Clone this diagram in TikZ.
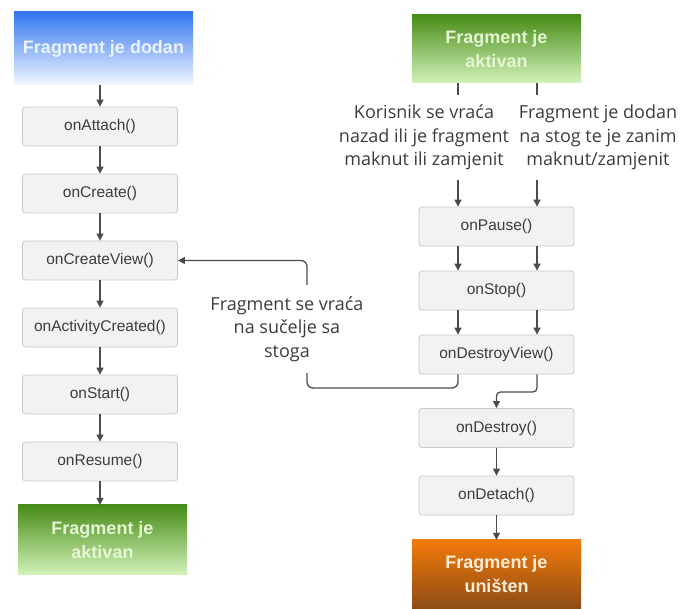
\documentclass[tikz,border=0pt]{standalone}
\usepackage{fontspec}
\setmainfont{Liberation Sans}
\newfontfamily\notefont{Open Sans}
\usetikzlibrary{arrows.meta,positioning}

\definecolor{boxfill}{RGB}{242,242,242}
\definecolor{boxline}{RGB}{200,200,200}
\definecolor{inkgray}{RGB}{60,60,60}
\definecolor{arrowgray}{RGB}{75,75,75}
\definecolor{blueTop}{RGB}{50,118,240}
\definecolor{blueBot}{RGB}{242,247,255}
\definecolor{blueText}{RGB}{235,243,255}
\definecolor{greenTop}{RGB}{72,140,24}
\definecolor{greenBot}{RGB}{210,242,185}
\definecolor{greenText}{RGB}{228,246,210}
\definecolor{orangeTop}{RGB}{242,122,10}
\definecolor{orangeBot}{RGB}{140,76,22}
\definecolor{orangeText}{RGB}{255,236,215}

\begin{document}
\begin{tikzpicture}[x=1pt,y=-1pt,node distance=67pt,
		method node/.style={rectangle,rounded corners=3pt,draw=boxline,fill=boxfill,line width=0.8pt,
			minimum width=155pt,minimum height=39pt,text=inkgray,font=\fontsize{15.5}{18}\selectfont},
		state node/.style={rectangle,minimum width=169pt,minimum height=70pt,align=center,
			font=\fontsize{18}{24}\selectfont\bfseries},
		note/.style={align=center,inner sep=0pt,text=inkgray,font=\notefont\fontsize{18}{23.5}\selectfont},
		flow/.style={draw=arrowgray,line width=1.3pt,-{Triangle[length=7pt,width=7pt]}},
		plain/.style={draw=arrowgray,line width=1.3pt}]
		
		\useasboundingbox (0,0) rectangle (681,609);
		
		% lijevi stupac
		\node[state node,top color=blueTop,bottom color=blueBot,text=blueText,minimum width=179pt,minimum height=73pt] (added) at (103.5,48.5) {Fragment je dodan};
		\node[method node] (attach) at (100,126.5) {onAttach()};
		\node[method node] (create) [below of=attach] {onCreate()};
		\node[method node] (cview) [below of=create] {onCreateView()};
		\node[method node] (actcreated) [below of=cview] {onActivityCreated()};
		\node[method node] (start) [below of=actcreated] {onStart()};
		\node[method node] (resume) [below of=start] {onResume()};
		\node[state node,top color=greenTop,bottom color=greenBot,text=greenText] (active2) at (102.5,540) {Fragment je\\aktivan};
		
		% desni stupac
		\node[state node,top color=greenTop,bottom color=greenBot,text=greenText,minimum height=68pt] (active) at (496.5,49) {Fragment je\\aktivan};
		\node[note,minimum height=85pt] (userback) at (424,137.5) {Korisnik se vraća\\nazad ili je fragment\\maknut ili zamjenit};
		\node[note,minimum height=85pt] (tostack) at (598,137.5) {Fragment je dodan\\na stog te je zanim\\maknut/zamjenit};
		\node[method node] (pause) at (496.5,226.5) {onPause()};
		\node[method node] (stop) at (496.5,290.5) {onStop()};
		\node[method node] (dview) at (496.5,354.5) {onDestroyView()};
		\node[method node] (destroy) at (496.5,428) {onDestroy()};
		\node[method node] (detach) at (496.5,495.5) {onDetach()};
		\node[state node,top color=orangeTop,bottom color=orangeBot,text=orangeText,minimum height=69pt] (gone) at (496.5,574.5) {Fragment je\\uništen};
		
		\coordinate (lx) at (458,0);
		\coordinate (rx) at (537,0);
		\coordinate (ret) at (307,388);
		\coordinate (split) at (496.5,392);
		
		\path[every edge/.style={flow}]
		(added.south -| attach) edge (attach)
		(attach) edge (create)
		(create) edge (cview)
		(cview) edge (actcreated)
		(actcreated) edge (start)
		(start) edge (resume)
		(resume) edge (active2.north -| resume);
		
		\path[every edge/.style={plain}]
		(active.south -| lx) edge (userback.north -| lx)
		(active.south -| rx) edge (tostack.north -| rx);
		
		\path[every edge/.style={flow}]
		(userback.south -| lx) edge (pause.north -| lx)
		(tostack.south -| rx) edge (pause.north -| rx)
		(pause.south -| lx) edge (stop.north -| lx)
		(pause.south -| rx) edge (stop.north -| rx)
		(stop.south -| lx) edge (dview.north -| lx)
		(stop.south -| rx) edge (dview.north -| rx)
		(destroy) edge (detach)
		(detach) edge (gone.north -| detach);
		
		\draw[flow,rounded corners=6pt] (dview.south -| lx) |- (ret) |- (cview.east);
		\draw[flow,rounded corners=4pt] (dview.south -| rx) |- (split) -- (destroy.north -| split);
		
		\node[note,fill=white,minimum height=88pt,inner xsep=4pt] (back) at (287,329) {Fragment se vraća\\na sučelje sa\\stoga};
		\end{tikzpicture}
\end{document}
